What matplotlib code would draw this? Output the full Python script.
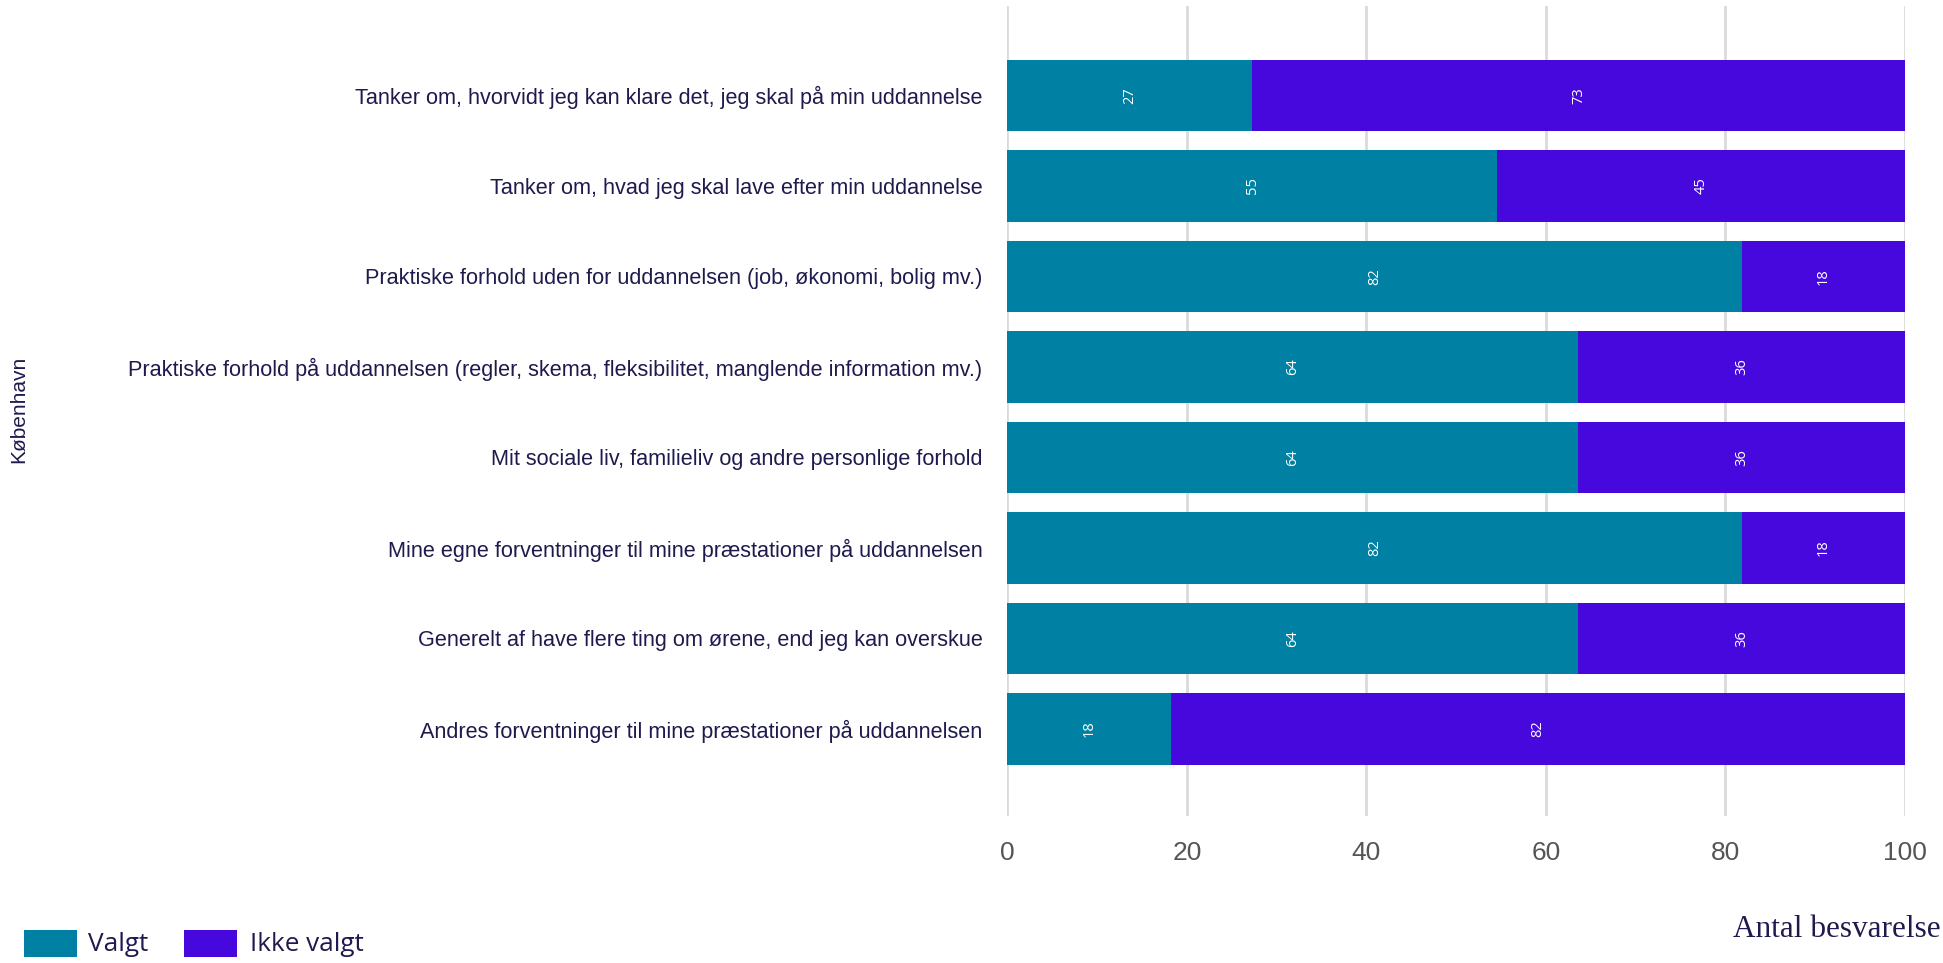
import matplotlib
matplotlib.use("Agg")
import matplotlib.pyplot as plt
from matplotlib.patches import Rectangle

categories = [
    "Tanker om, hvorvidt jeg kan klare det, jeg skal på min uddannelse",
    "Tanker om, hvad jeg skal lave efter min uddannelse",
    "Praktiske forhold uden for uddannelsen (job, økonomi, bolig mv.)",
    "Praktiske forhold på uddannelsen (regler, skema, fleksibilitet, manglende information mv.)",
    "Mit sociale liv, familieliv og andre personlige forhold",
    "Mine egne forventninger til mine præstationer på uddannelsen",
    "Generelt af have flere ting om ørene, end jeg kan overskue",
    "Andres forventninger til mine præstationer på uddannelsen",
]
valgt = [27.27, 54.55, 81.82, 63.64, 63.64, 81.82, 63.64, 18.18]
ikke_valgt = [72.73, 45.45, 18.18, 36.36, 36.36, 18.18, 36.36, 81.82]
series_names = ["Valgt", "Ikke valgt"]
xticks = [0, 20, 40, 60, 80, 100]
y_title = "København"
x_title = "Antal besvarelse"

c_valgt = "#0080A2"
c_ikke = "#4608DC"
txt = "#1E1A4E"

W, H = 1943, 963
fig = plt.figure(figsize=(W / 100, H / 100), dpi=100)
ax = fig.add_axes([0.5185, 0.153, 0.4618, 0.841])

ypos = list(range(len(categories)))
h = 0.79
ax.barh(ypos, valgt, height=h, color=c_valgt, zorder=3, label=series_names[0])
ax.barh(ypos, ikke_valgt, left=valgt, height=h, color=c_ikke, zorder=3,
        label=series_names[1])

for y, v, w in zip(ypos, valgt, ikke_valgt):
    ax.text(v / 2, y, f"{v:.0f}", rotation=90, ha="center", va="center",
            color="white", fontsize=10.5, family="Open Sans", zorder=4)
    ax.text(v + w / 2, y, f"{w:.0f}", rotation=90, ha="center", va="center",
            color="white", fontsize=10.5, family="Open Sans", zorder=4)

ax.set_xlim(0, 100)
ax.set_ylim(7.96, -0.99)
ax.set_xticks(xticks)
ax.set_xticklabels([str(t) for t in xticks], fontsize=19, color="#555555",
                   family="Liberation Sans")
ax.set_yticks(ypos)
ax.set_yticklabels(categories, fontsize=15.55, color=txt, family="Liberation Sans")
ax.tick_params(axis="y", length=0, pad=18)
ax.tick_params(axis="x", length=0, pad=18)
ax.grid(axis="x", color="#DADADA", linewidth=2, zorder=0)
ax.grid(axis="y", visible=False)
for s in ax.spines.values():
    s.set_visible(False)

fig.text(0.0098, 0.575, y_title, rotation=90, ha="center", va="center",
         fontsize=15, color=txt, family="Liberation Sans")
fig.text(1733 / W, 1 - 937 / H, x_title, ha="left", va="baseline", fontsize=22.5,
         color=txt, family="Liberation Serif")

# legend (manual placement)
leg_items = [(series_names[0], c_valgt, 24, 88), (series_names[1], c_ikke, 184, 250)]
for name, col, px, tx in leg_items:
    fig.patches.append(Rectangle((px / W, 1 - 957 / H), 53 / W, 27 / H,
                                 transform=fig.transFigure, facecolor=col,
                                 edgecolor="none"))
    fig.text(tx / W, 1 - 944 / H, name, ha="left", va="center", fontsize=18.8,
             color=txt, family="Open Sans")

fig.savefig("out.png", dpi=100, facecolor="white")
